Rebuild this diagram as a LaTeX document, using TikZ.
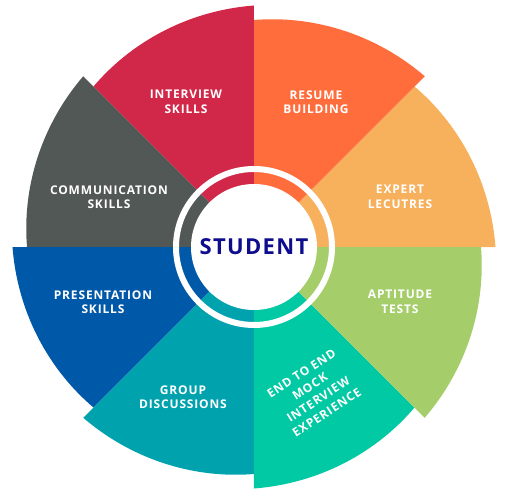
\documentclass[tikz,border=0pt]{standalone}
\usepackage{fontspec}
\setmainfont{Open Sans}
\usepackage{tikz}
\definecolor{interviewred}{HTML}{D12748}
\definecolor{resumeorange}{HTML}{FF6D3D}
\definecolor{expertorange}{HTML}{F7B05C}
\definecolor{aptitudegreen}{HTML}{A5CE6A}
\definecolor{mockgreen}{HTML}{00C9A3}
\definecolor{groupteal}{HTML}{00A2AE}
\definecolor{presentblue}{HTML}{0058A8}
\definecolor{commgray}{HTML}{525856}
\definecolor{studentblue}{HTML}{0D0D8E}
\tikzset{label/.style={text=white,align=center,font=\fontsize{12}{14.5}\selectfont\bfseries\addfontfeature{LetterSpace=7}},
	hub/.style={text=studentblue,font=\fontsize{22}{24}\selectfont\bfseries\addfontfeature{LetterSpace=6}}}
\begin{document}
\begin{tikzpicture}[x=1pt,y=1pt]
	\useasboundingbox (-254,-246) rectangle (252,247);
	\foreach \s/\c in {0/expertorange,45/resumeorange,90/interviewred,135/commgray,
		180/presentblue,225/groupteal,270/mockgreen,315/aptitudegreen}
		\fill[\c] (0,0) -- plot[domain=0:45,samples=40] ({\s+\x}:{241.5-14.5*\x/45}) -- cycle;
	\draw[white,line width=6] (0,0) circle (78);
	\fill[white] (0,0) circle (63);
	\node[hub] (student) at (0,0) {STUDENT};
	\node[label] (resume) at (62,145) {RESUME\\BUILDING};
	\node[label] (interview) at (-68,145) {INTERVIEW\\SKILLS};
	\node[label] (communication) at (-145,50) {COMMUNICATION\\SKILLS};
	\node[label] (expert) at (146,50) {EXPERT\\LECUTRES};
	\node[label] (presentation) at (-151,-55) {PRESENTATION\\SKILLS};
	\node[label] (aptitude) at (146,-55) {APTITUDE\\TESTS};
	\node[label] (group) at (-71,-150) {GROUP\\DISCUSSIONS};
	\node[label,rotate=33,font=\fontsize{12}{15.5}\selectfont\bfseries\addfontfeature{LetterSpace=7}] (mock) at (60,-146) {END TO END\\MOCK\\INTERVIEW\\EXPERIENCE};
\end{tikzpicture}
\end{document}
